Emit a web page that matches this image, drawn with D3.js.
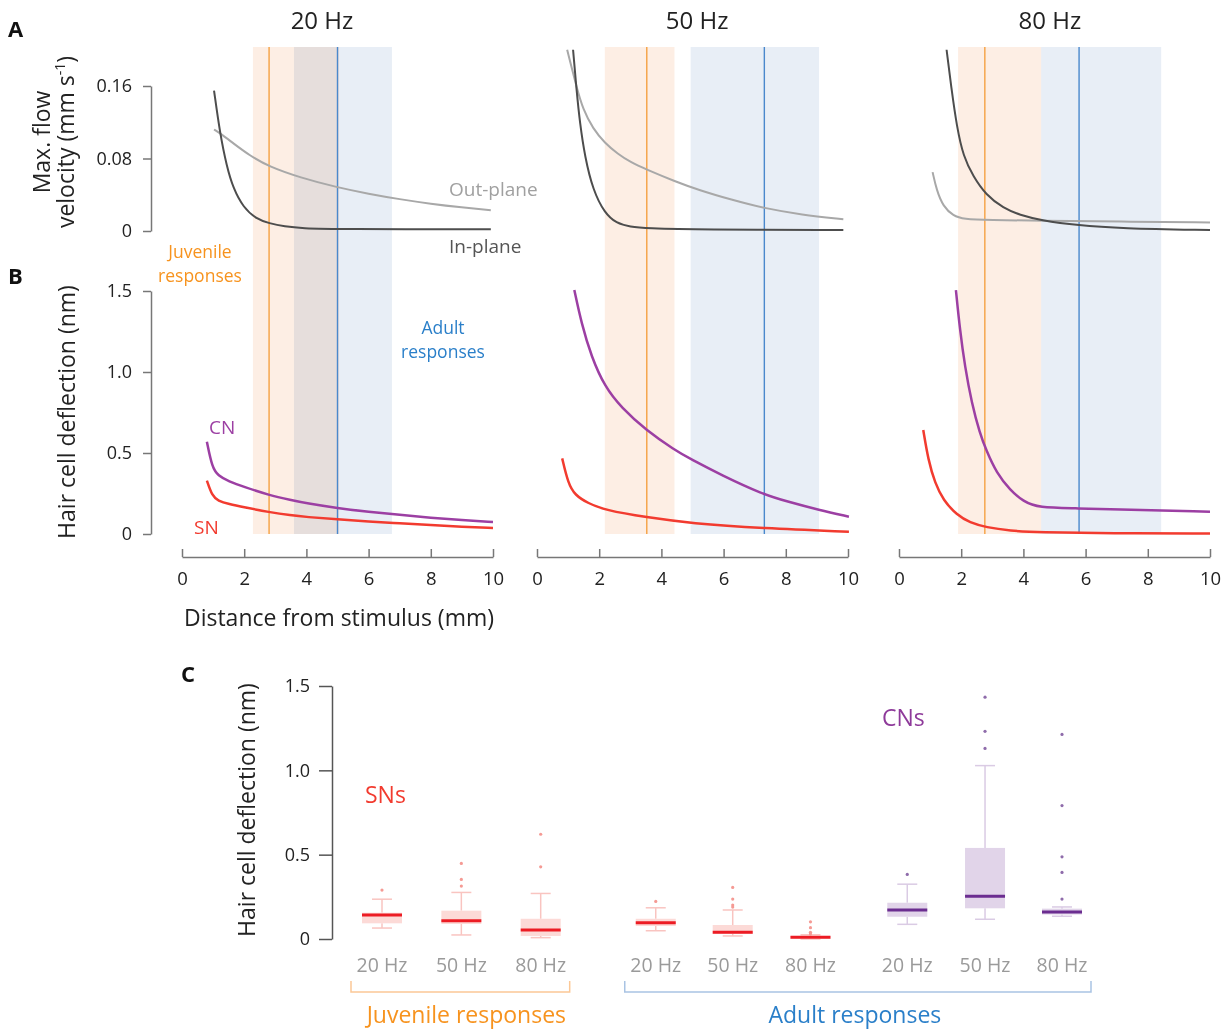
<!DOCTYPE html>
<html>
<head>
<meta charset="utf-8">
<script src="https://cdn.jsdelivr.net/npm/d3@7"></script>
<style>
  body { margin: 0; background: #fff; }
  svg { font-family: "Open Sans", sans-serif; }
</style>
</head>
<body>
<svg id="chart" width="1231" height="1032"></svg>
<script>
// ---------- Data ----------
const freqs = ["20 Hz", "50 Hz", "80 Hz"];
const titleAt = [4.5, 5.15, 4.85];   // mm position of each panel title

// shaded ranges of recorded responses (mm from stimulus)
const juvenileBand = [[2.28, 5.05], [2.18, 4.42], [1.9, 4.57]];
const adultBand    = [[3.6, 6.75], [4.94, 9.07], [4.57, 8.43]];
const juvenileMean = [2.8, 3.53, 2.76];
const adultMean    = [5.0, 7.31, 5.79];

// A: max flow velocity (mm/s) vs distance (mm)
const inPlane = [
  [[1.03,0.155],[1.22,0.108],[1.44,0.071],[1.65,0.047],[1.97,0.026],[2.4,0.013],[2.8,0.0085],[3.3,0.005],[3.86,0.003],[5,0.002],[9.93,0.002]],
  [[1.16,0.2],[1.27,0.156],[1.38,0.119],[1.54,0.082],[1.8,0.045],[2.18,0.0195],[2.55,0.0085],[3.0,0.0045],[3.51,0.003],[5.22,0.0015],[9.85,0.001]],
  [[1.53,0.2],[1.69,0.156],[1.86,0.115],[2.07,0.082],[2.39,0.06],[2.79,0.04],[3.36,0.025],[3.89,0.0177],[4.53,0.012],[5.78,0.006],[7.1,0.003],[10,0.001]]
];
const outPlane = [
  [[1.03,0.112],[1.3,0.106],[1.64,0.097],[2.19,0.083],[2.8,0.071],[3.79,0.059],[5.0,0.048],[6,0.041],[7,0.035],[8,0.03],[9,0.026],[9.93,0.023]],
  [[0.97,0.2],[1.27,0.159],[1.48,0.134],[1.8,0.113],[2.18,0.097],[2.6,0.085],[3.0,0.076],[3.51,0.068],[4.42,0.055],[5.22,0.045],[6.2,0.035],[7.31,0.025],[8.5,0.018],[9.85,0.013]],
  [[1.08,0.065],[1.21,0.045],[1.42,0.027],[1.75,0.0166],[2.07,0.013],[2.9,0.012],[4.53,0.0114],[7.1,0.0103],[10,0.0095]]
];

// B: hair cell deflection (nm) vs distance (mm)
const cnDefl = [
  [[0.8,0.57],[0.97,0.41],[1.16,0.36],[1.5,0.325],[2,0.29],[2.8,0.24],[3.5,0.21],[4,0.19],[5,0.16],[6,0.137],[7,0.118],[8,0.1],[9,0.086],[10,0.074]],
  [[1.2,1.506],[1.43,1.3],[1.75,1.094],[2.18,0.909],[2.71,0.78],[3.51,0.64],[4.42,0.519],[4.96,0.46],[5.92,0.365],[7.26,0.245],[8.06,0.2],[9.07,0.148],[10.03,0.107]],
  [[1.83,1.506],[1.96,1.259],[2.12,1.033],[2.34,0.807],[2.6,0.621],[2.8,0.519],[3.14,0.375],[3.57,0.272],[4.0,0.2],[4.48,0.162],[5.71,0.159],[6.78,0.152],[10,0.138]]
];
const snDefl = [
  [[0.8,0.33],[0.97,0.235],[1.16,0.205],[1.5,0.185],[2,0.165],[2.8,0.135],[3.5,0.115],[4,0.105],[5,0.09],[6,0.077],[7,0.066],[8,0.055],[9,0.045],[10,0.037]],
  [[0.81,0.467],[1.0,0.313],[1.22,0.24],[1.64,0.19],[2.18,0.148],[3.51,0.103],[4.96,0.066],[7.26,0.035],[10.03,0.014]],
  [[0.78,0.642],[0.94,0.457],[1.16,0.313],[1.42,0.21],[1.86,0.117],[2.28,0.07],[2.8,0.041],[3.57,0.02],[4.48,0.01],[6.78,0.004],[10,0.003]]
];

// C: box plots of hair cell deflection (nm)
const boxGroup  = ["Juvenile","Juvenile","Juvenile","Adult","Adult","Adult","Adult","Adult","Adult"];
const boxFreq   = ["20 Hz","50 Hz","80 Hz","20 Hz","50 Hz","80 Hz","20 Hz","50 Hz","80 Hz"];
const boxCell   = ["SN","SN","SN","SN","SN","SN","CN","CN","CN"];
const boxSlot   = [0, 1, 2, 3.45, 4.42, 5.4, 6.62, 7.6, 8.57];
const boxQ1     = [0.093, 0.089, 0.018, 0.077, 0.03, 0.002, 0.132, 0.182, 0.145];
const boxMedian = [0.142, 0.108, 0.053, 0.097, 0.04, 0.01, 0.172, 0.254, 0.16];
const boxQ3     = [0.156, 0.168, 0.12, 0.12, 0.083, 0.018, 0.215, 0.54, 0.18];
const whiskLo   = [0.065, 0.024, 0.008, 0.049, 0.018, 0.0, 0.087, 0.117, 0.135];
const whiskHi   = [0.236, 0.276, 0.27, 0.185, 0.172, 0.025, 0.325, 1.028, 0.19];
const outliers  = [
  [0.29], [0.448, 0.353, 0.314], [0.621, 0.428],
  [0.223], [0.306, 0.237, 0.201, 0.189], [0.102, 0.067, 0.04, 0.03],
  [0.383], [1.434, 1.231, 1.13], [1.213, 0.791, 0.487, 0.395, 0.237]
];

// ---------- Styles ----------
const col = {
  juv: "#f7931e", juvBand: "#fdeee4", juvLine: "#f5a142",
  adu: "#2a7fc9", aduBand: "#e8eef6", aduLine: "#4a88cc",
  inP: "#4d4d4d", outP: "#a8a8a8",
  cn: "#9c3fa3", sn: "#f23b2f",
  axis: "#777", text: "#222"
};
const cellStyle = {
  SN: { fill: "#fcdad7", med: "#ec1c24", whisk: "#f9c4c0", dot: "#f59a94" },
  CN: { fill: "#e1d4e9", med: "#6b2d90", whisk: "#dacbe4", dot: "#8f6cab" }
};

const svg = d3.select("#chart");

// ---------- Panels A & B ----------
const panelLeft = [182, 537, 899];
const panelW = 311;
const yA = d3.scaleLinear([0, 0.16], [231, 86]);
const yB = d3.scaleLinear([0, 1.5], [534, 291]);
const bandTop = 47, bandBottom = 534;

freqs.forEach((f, i) => {
  const x = d3.scaleLinear([0, 10], [panelLeft[i], panelLeft[i] + panelW]);
  const g = svg.append("g");

  // shaded ranges (multiply so the overlap darkens)
  [[juvenileBand[i], col.juvBand], [adultBand[i], col.aduBand]].forEach(([b, c]) => {
    g.append("rect")
      .attr("x", x(b[0])).attr("y", bandTop)
      .attr("width", x(b[1]) - x(b[0])).attr("height", bandBottom - bandTop)
      .attr("fill", c)
      .style("mix-blend-mode", "multiply");
  });
  [[juvenileMean[i], col.juvLine], [adultMean[i], col.aduLine]].forEach(([m, c]) => {
    g.append("line")
      .attr("x1", x(m)).attr("x2", x(m))
      .attr("y1", bandTop).attr("y2", bandBottom)
      .attr("stroke", c).attr("stroke-width", 1.4);
  });

  // title
  svg.append("text")
    .attr("x", x(titleAt[i])).attr("y", 29)
    .attr("text-anchor", "middle")
    .attr("font-size", 24).attr("fill", col.text)
    .text(f);

  // A curves
  const lineA = d3.line().x(d => x(d[0])).y(d => yA(d[1])).curve(d3.curveBasis);
  g.append("path").datum(outPlane[i]).attr("d", lineA)
    .attr("fill", "none").attr("stroke", col.outP).attr("stroke-width", 2);
  g.append("path").datum(inPlane[i]).attr("d", lineA)
    .attr("fill", "none").attr("stroke", col.inP).attr("stroke-width", 2);

  // B curves
  const lineB = d3.line().x(d => x(d[0])).y(d => yB(d[1])).curve(d3.curveBasis);
  g.append("path").datum(snDefl[i]).attr("d", lineB)
    .attr("fill", "none").attr("stroke", col.sn).attr("stroke-width", 2.5);
  g.append("path").datum(cnDefl[i]).attr("d", lineB)
    .attr("fill", "none").attr("stroke", col.cn).attr("stroke-width", 2.5);

  // x axis
  const ax = svg.append("g")
    .attr("transform", "translate(0,557)")
    .call(d3.axisBottom(x).tickValues(d3.range(0, 11, 2)).tickSize(-8).tickSizeOuter(0).tickPadding(15));
  ax.select(".domain").attr("stroke", col.axis).attr("stroke-width", 1.5);
  ax.selectAll(".tick line").attr("stroke", col.axis).attr("stroke-width", 1.5);
  ax.selectAll(".tick text").attr("font-size", 18.5).attr("fill", col.text)
    .attr("font-family", "Open Sans");
});

// y axes A & B
function yAxis(scale, ticks, fmt, xPos, size, pad) {
  const a = svg.append("g")
    .attr("transform", `translate(${xPos},0)`)
    .call(d3.axisLeft(scale).tickValues(ticks).tickFormat(fmt).tickSize(size).tickSizeOuter(0).tickPadding(pad));
  a.select(".domain").attr("stroke", col.axis).attr("stroke-width", 1.5);
  a.selectAll(".tick line").attr("stroke", col.axis).attr("stroke-width", 1.5);
  a.selectAll(".tick text").attr("font-size", 18).attr("fill", col.text)
    .attr("font-family", "Open Sans");
  return a;
}
yAxis(yA, [0, 0.08, 0.16], d => d === 0 ? "0" : d3.format(".2f")(d), 151, 8, 11);
yAxis(yB, [0, 0.5, 1.0, 1.5], d => d === 0 ? "0" : d3.format(".1f")(d), 151, 8, 11);

// axis titles
svg.append("text")
  .attr("transform", "translate(50,142) rotate(-90)")
  .attr("text-anchor", "middle").attr("font-size", 23).attr("fill", col.text)
  .text("Max. flow");
const yLabA2 = svg.append("text")
  .attr("transform", "translate(74,142) rotate(-90)")
  .attr("text-anchor", "middle").attr("font-size", 23).attr("fill", col.text);
yLabA2.append("tspan").text("velocity (mm s");
yLabA2.append("tspan").attr("font-size", 14).attr("dy", -9).text("-1");
yLabA2.append("tspan").attr("dy", 9).text(")");

svg.append("text")
  .attr("transform", "translate(75,412) rotate(-90)")
  .attr("text-anchor", "middle").attr("font-size", 23).attr("fill", col.text)
  .text("Hair cell deflection (nm)");

svg.append("text")
  .attr("x", 339).attr("y", 626)
  .attr("text-anchor", "middle").attr("font-size", 23).attr("fill", col.text)
  .text("Distance from stimulus (mm)");

// panel letters
[["A", 8, 37], ["B", 8, 284], ["C", 181, 682]].forEach(([t, px, py]) => {
  svg.append("text").attr("x", px).attr("y", py)
    .attr("font-size", 22).attr("font-weight", "bold").attr("fill", "#111")
    .text(t);
});

// in-panel annotations
function label(txt, px, py, color, size, anchor) {
  svg.append("text").attr("x", px).attr("y", py)
    .attr("text-anchor", anchor || "start")
    .attr("font-size", size).attr("fill", color).text(txt);
}
label("Juvenile", 200, 258, col.juv, 17.5, "middle");
label("responses", 200, 282, col.juv, 17.5, "middle");
label("Adult", 443, 334, col.adu, 17.5, "middle");
label("responses", 443, 358, col.adu, 17.5, "middle");
label("Out-plane", 449, 196, "#a0a0a0", 19);
label("In-plane", 449, 253, "#555", 19);
label("CN", 209, 434, col.cn, 19);
label("SN", 194, 534, col.sn, 19);

// ---------- Panel C ----------
const yC = d3.scaleLinear([0, 1.5], [939, 686]);
const xC = d3.scaleLinear([0, 8.57], [382, 1062]);
const boxW = 40, capW = 20;

const ac = svg.append("g")
  .attr("transform", "translate(332,0)")
  .call(d3.axisLeft(yC).tickValues([0, 0.5, 1.0, 1.5]).tickFormat(d => d === 0 ? "0" : d3.format(".1f")(d))
    .tickSize(13).tickSizeOuter(0).tickPadding(9));
ac.select(".domain").attr("stroke", "#555").attr("stroke-width", 1.5);
ac.selectAll(".tick line").attr("stroke", "#555").attr("stroke-width", 1.5);
ac.selectAll(".tick text").attr("font-size", 18).attr("fill", col.text).attr("font-family", "Open Sans");

svg.append("text")
  .attr("transform", "translate(255,810) rotate(-90)")
  .attr("text-anchor", "middle").attr("font-size", 23).attr("fill", col.text)
  .text("Hair cell deflection (nm)");

boxSlot.forEach((s, i) => {
  const cx = xC(s);
  const st = cellStyle[boxCell[i]];
  const g = svg.append("g");
  // whiskers
  g.append("line").attr("x1", cx).attr("x2", cx)
    .attr("y1", yC(whiskHi[i])).attr("y2", yC(boxQ3[i]))
    .attr("stroke", st.whisk).attr("stroke-width", 1.5);
  g.append("line").attr("x1", cx).attr("x2", cx)
    .attr("y1", yC(boxQ1[i])).attr("y2", yC(whiskLo[i]))
    .attr("stroke", st.whisk).attr("stroke-width", 1.5);
  [whiskHi[i], whiskLo[i]].forEach(v => {
    g.append("line").attr("x1", cx - capW / 2).attr("x2", cx + capW / 2)
      .attr("y1", yC(v)).attr("y2", yC(v))
      .attr("stroke", st.whisk).attr("stroke-width", 1.5);
  });
  // box
  g.append("rect")
    .attr("x", cx - boxW / 2).attr("y", yC(boxQ3[i]))
    .attr("width", boxW).attr("height", Math.max(1, yC(boxQ1[i]) - yC(boxQ3[i])))
    .attr("fill", st.fill);
  // median
  g.append("line").attr("x1", cx - boxW / 2).attr("x2", cx + boxW / 2)
    .attr("y1", yC(boxMedian[i])).attr("y2", yC(boxMedian[i]))
    .attr("stroke", st.med).attr("stroke-width", 3);
  // outliers
  g.selectAll("circle").data(outliers[i]).join("circle")
    .attr("cx", cx).attr("cy", d => yC(d)).attr("r", 1.6)
    .attr("fill", st.dot);
  // category label
  svg.append("text")
    .attr("x", cx).attr("y", 972)
    .attr("text-anchor", "middle").attr("font-size", 19.5).attr("fill", "#9a9a9a")
    .text(boxFreq[i]);
});

// group brackets
[["Juvenile", "Juvenile responses", col.juv, "#fcc896", 6], ["Adult", "Adult responses", col.adu, "#a9c3e3", -3]]
  .forEach(([grp, txt, tc, bc, dx]) => {
    const idx = boxGroup.map((gname, k) => gname === grp ? k : -1).filter(k => k >= 0);
    const x0 = xC(boxSlot[idx[0]]) - 31;
    const x1 = xC(boxSlot[idx[idx.length - 1]]) + 29;
    svg.append("path")
      .attr("d", `M${x0},981V992H${x1}V981`)
      .attr("fill", "none").attr("stroke", bc).attr("stroke-width", 1.5);
    svg.append("text")
      .attr("x", (x0 + x1) / 2 + dx).attr("y", 1023)
      .attr("text-anchor", "middle").attr("font-size", 23).attr("fill", tc)
      .text(txt);
  });

label("SNs", 365, 803, col.sn, 23);
label("CNs", 882, 726, "#8e3a9a", 23);
</script>
</body>
</html>
